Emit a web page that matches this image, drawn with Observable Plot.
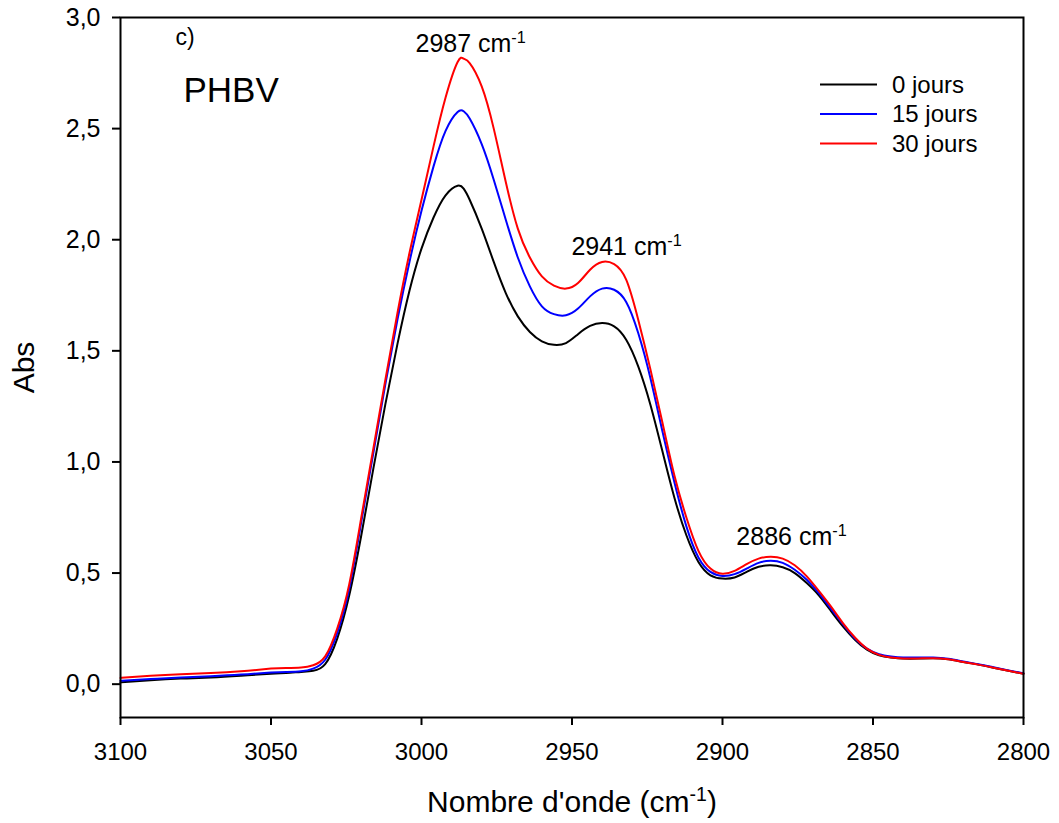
<!DOCTYPE html>
<html><head><meta charset="utf-8">
<script src="https://cdn.jsdelivr.net/npm/d3@7"></script>
<script src="https://cdn.jsdelivr.net/npm/@observablehq/plot@0.6"></script>
<style>
body{margin:0;background:#fff;}
svg{font-family: Arial, "Liberation Sans", sans-serif;}
</style>
</head><body><div id="chart"></div>
<script>
const wavenumbers = [3100,3090,3080,3070,3060,3050,3045,3040,3036,3032,3028,3024,3020,3016,3012,3008,3004,3000,2996,2992,2988,2986,2984,2980,2976,2972,2968,2964,2960,2956,2952,2948,2944,2940,2936,2932,2928,2924,2920,2916,2912,2908,2904,2900,2896,2892,2888,2884,2880,2876,2872,2868,2864,2860,2856,2852,2848,2844,2840,2835,2830,2825,2820,2815,2810,2805,2800];
const abs0 = [0.008,0.018,0.025,0.030,0.038,0.047,0.050,0.055,0.060,0.090,0.205,0.400,0.670,0.970,1.260,1.530,1.770,1.960,2.100,2.200,2.243,2.230,2.180,2.050,1.900,1.760,1.655,1.585,1.543,1.527,1.535,1.575,1.612,1.625,1.610,1.550,1.430,1.260,1.050,0.840,0.670,0.550,0.490,0.475,0.480,0.505,0.528,0.535,0.526,0.500,0.455,0.400,0.330,0.260,0.200,0.155,0.130,0.120,0.115,0.115,0.117,0.112,0.100,0.088,0.074,0.060,0.047];
const abs15 = [0.015,0.023,0.030,0.036,0.043,0.052,0.055,0.058,0.070,0.110,0.230,0.430,0.730,1.040,1.350,1.640,1.900,2.130,2.330,2.490,2.575,2.578,2.545,2.430,2.270,2.090,1.920,1.790,1.700,1.665,1.660,1.690,1.745,1.780,1.775,1.720,1.580,1.380,1.140,0.910,0.710,0.570,0.505,0.487,0.495,0.520,0.546,0.555,0.546,0.515,0.470,0.410,0.340,0.270,0.205,0.160,0.135,0.125,0.120,0.120,0.120,0.114,0.102,0.090,0.076,0.062,0.049];
const abs30 = [0.028,0.038,0.045,0.050,0.058,0.070,0.073,0.075,0.085,0.125,0.250,0.450,0.750,1.060,1.370,1.670,1.940,2.180,2.420,2.640,2.800,2.815,2.795,2.690,2.500,2.260,2.050,1.920,1.835,1.793,1.780,1.805,1.865,1.900,1.890,1.820,1.640,1.420,1.180,0.940,0.750,0.600,0.520,0.497,0.510,0.540,0.565,0.573,0.565,0.535,0.485,0.420,0.350,0.275,0.210,0.160,0.132,0.120,0.116,0.116,0.117,0.112,0.100,0.088,0.074,0.060,0.047];
const seriesNames = ["0 jours","15 jours","30 jours"];
const seriesColors = ["#000000","#0000ff","#ff0000"];
const xTicks = [3100,3050,3000,2950,2900,2850,2800];
const yTicks = [0,0.5,1,1.5,2,2.5,3];
const peakLabels = ["2987 cm^-1","2941 cm^-1","2886 cm^-1"];
const peakX = [3002, 2950.2, 2895.4];
const peakY = [2.843, 1.93, 0.625];

const data = [];
[abs0, abs15, abs30].forEach((arr, i) => arr.forEach((v, j) => data.push({x: wavenumbers[j], y: v, s: seriesNames[i]})));

const FONT = "Arial, 'Liberation Sans', sans-serif";
const plot = Plot.plot({
  width: 1059, height: 823,
  marginLeft: 120, marginRight: 36, marginTop: 17, marginBottom: 106,
  style: {fontSize: "24px", fontFamily: FONT, background: "#fff", color: "#000", overflow: "visible"},
  x: {domain: [3100, 2800]},
  y: {domain: [-0.15, 3]},
  color: {domain: seriesNames, range: seriesColors},
  marks: [
    Plot.axisX({ticks: xTicks, tickSize: 8, tickPadding: 17, label: null, tickFormat: d => String(d), fontSize: 24, strokeWidth: 2}),
    Plot.axisY({ticks: yTicks, tickSize: 8, tickPadding: 12, label: null, tickFormat: d => d.toFixed(1).replace(".", ","), fontSize: 25, strokeWidth: 2}),
    Plot.line(data, {x: "x", y: "y", z: "s", stroke: "s", strokeWidth: 2, curve: "natural"}),
    Plot.frame({stroke: "#000", strokeWidth: 2}),
    Plot.text(peakLabels, {x: (d, i) => peakX[i], y: (d, i) => peakY[i], textAnchor: "start", lineAnchor: "bottom", fontSize: 25, fill: "#000"}),
    Plot.text(["c)"], {frameAnchor: "top-left", dx: 55, dy: 20, textAnchor: "start", lineAnchor: "middle", fontSize: 23, fill: "#000"}),
    Plot.text(["PHBV"], {frameAnchor: "top-left", dx: 63, dy: 73, textAnchor: "start", lineAnchor: "middle", fontSize: 35, fill: "#000"}),
    Plot.text(["Abs"], {frameAnchor: "left", dx: -96, rotate: -90, textAnchor: "middle", lineAnchor: "middle", fontSize: 30, fill: "#000"}),
    Plot.text(["Nombre d'onde (cm^-1)"], {frameAnchor: "bottom", dy: 94, textAnchor: "middle", lineAnchor: "bottom", fontSize: 30, fill: "#000"})
  ]
});

const svg = d3.select(plot);
// superscripts
svg.selectAll("text").each(function() {
  const t = this.textContent;
  if (!t.includes("^-1")) return;
  const [before, after] = t.split("^-1");
  const el = d3.select(this);
  el.text(null);
  el.append("tspan").text(before);
  el.append("tspan").attr("dy", "-0.55em").attr("font-size", "0.65em").text("-1");
  if (after) el.append("tspan").attr("dy", "0.36em").text(after);
});
// legend
const lg = svg.append("g").attr("font-family", FONT).attr("font-size", 24).attr("text-anchor", "start");
seriesNames.forEach((n, i) => {
  const y = 84.5 + i * 29.5;
  lg.append("line").attr("x1", 820).attr("x2", 877).attr("y1", y).attr("y2", y).attr("stroke", seriesColors[i]).attr("stroke-width", 2);
  lg.append("text").attr("x", 892).attr("y", y).attr("dy", "0.35em").attr("fill", "#000").attr("text-anchor", "start").text(n);
});
document.getElementById("chart").appendChild(plot);
</script>
</body></html>
